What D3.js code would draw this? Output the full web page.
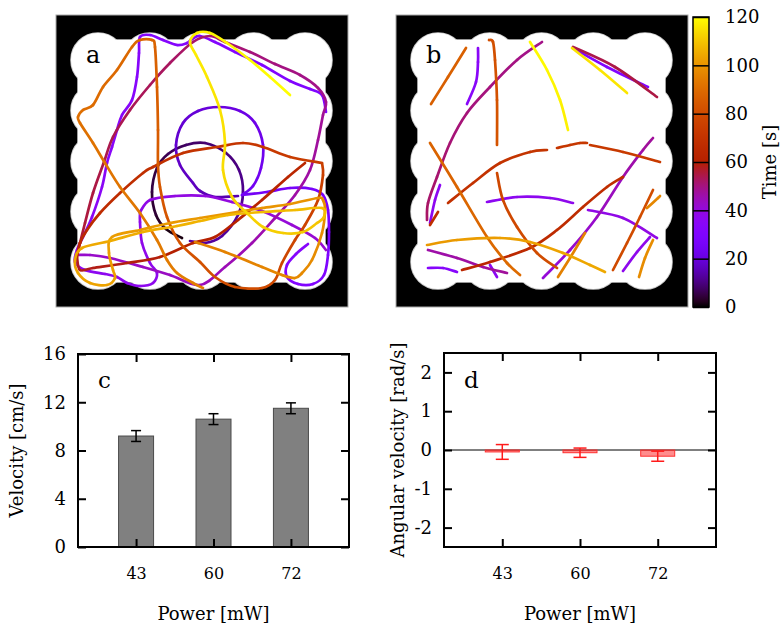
<!DOCTYPE html>
<html>
<head>
<meta charset="utf-8">
<script src="https://cdn.jsdelivr.net/npm/d3@7"></script>
<style>
  body { margin: 0; background: #fff; }
  text { font-family: "DejaVu Serif", serif; fill: #000; }
</style>
</head>
<body>
<svg id="fig" width="782" height="623"></svg>
<script>
// ---------- data ----------
var powers = ["43", "60", "72"];
var speed = [9.2, 10.6, 11.5];          // cm/s
var speedErr = [0.45, 0.45, 0.45];
var angVel = [-0.05, -0.07, -0.16];     // rad/s
var angErr = [0.19, 0.12, 0.13];
var speedTicks = [0, 4, 8, 12, 16];
var angTicks = [-2, -1, 0, 1, 2];
var timeTicks = [0, 20, 40, 60, 80, 100, 120];

// trajectories: arena coords in mm (0..146, y down), last value = time [s]
var trajA = [
  // dark loop
  [[63,111.5,0],[55,107,2.5],[50,100,3.5],[48,88.5,4.5],[50.5,76.5,5.5],[56,69.5,6.5],[65,65,7.5],[74.5,64,8.5],[85,69,9.5],[91.5,77.5,10.5],[93.5,88.5,11.5],[91,100,12],[83,110.5,12.5],[74.5,114,13],[67,113,13.5]],
  // purple loop
  [[91,90.5,14],[79.5,91,14.8],[72,88,15.5],[68.5,84,16.2],[62,75,17],[60,65,17.8],[63.5,54,18.6],[71,48,19.4],[81.5,46,20.2],[92,48,21],[99.5,54,21.8],[103.5,65,22.6],[102.5,76.5,23.4],[98.5,85.5,24],[93,90,24.5]],
  [[93,90,24.5],[105.5,88.5,25.2],[117,86.5,25.9],[128,87,26.6],[133.5,90,27.2],[136,97.5,27.8],[136.5,108.5,28.4],[136,120,29],[134,130,29.6],[128.5,134.5,30.2],[121,134.5,30.8],[115.5,131,31.4],[115.5,125,32],[120,119.5,32.6],[126,114.5,33.2]],
  [[135,48.5,30],[133,40,30.2],[127,37,30.4],[117,33,30.7],[103,25,31],[89.5,18.5,31.3],[79.5,13.5,31.6],[72,10.5,31.8],[68,12,32],[65.5,14,32.1],[60.5,15,32.3],[53.5,12.5,32.5],[47,10,32.7],[42,11,32.9],[41.5,19,33.1],[40.5,31,33.4],[38,42.5,33.7],[33,50,34],[30.5,57.5,34.2],[28,66,34.4],[25.5,74,34.6],[23,86,34.9],[18,101,35.2],[13.5,111,35.5],[10.5,117.5,35.7],[9.5,123.5,35.9],[14.5,127.5,36.1],[24.5,129.5,36.4],[30.5,131,36.6],[35.5,134,36.8],[42,135.5,37],[48.5,134,37.2],[50.5,129,37.4],[47,124,37.6],[43,114,37.8],[42,103.5,38],[42,98.5,38.2]],
  [[42,98.5,38.2],[47,92.5,38.6],[59.5,90.5,39],[74.5,90.5,39.5],[88,93.5,40],[103,98,40.5],[118,105,41],[129.5,111.5,41.5],[135,117.5,42]],
  // magenta loop
  [[10.5,120,42],[17,120,42.4],[27,121.5,42.8],[43.5,126,43.2],[57,130,43.6],[72,135,44],[84.5,126,44.6],[98,114,45.2],[109.5,101.5,45.8],[119.5,90,46.4],[127,77.5,47],[131,62.5,47.5],[133.5,50,48],[135,43.5,48.5],[131,36.5,49],[122,30,49.5],[109.5,24.5,50],[97,18.5,50.5],[84.5,13.5,51],[77,10.5,51.5],[68.5,13.5,52],[57,24,52.5],[47,35,53],[37,47.5,53.5],[28.5,61,54],[24,73.5,54.5],[18.5,89,55],[14.5,104,55.5],[12,114,56],[10.5,120,56.5]],
  // red
  [[10.5,121,57],[12,127.5,57.5],[18.5,126.5,58],[35.5,124,58.8],[52,121,59.6],[68.5,114,60.4],[79.5,111,61.2],[91,102.5,62],[103,92.5,62.8],[116,81,63.6],[124.5,74,64.4]],
  [[10.5,121,64.4],[12,114,65],[15.5,107.5,65.6],[22,99,66.4],[32,89,67.2],[43.5,79,68],[48.5,76,68.5],[63.5,69,69.5],[80.5,66,70.5],[93.5,64,71.5],[103.5,66,72.5],[117,71,73.5],[133,74,74.5]],
  // orange
  [[133,74,74.5],[133.5,80,75],[131,92.5,76],[124.5,105,77],[119.5,112.5,77.5],[113,124,78.2],[109.5,132.5,79],[103,136.5,79.7],[89.5,136,80.5],[79.5,131,81.2],[72,123.5,82],[62,114,82.7],[55.5,101,83.3],[52,86,84],[51,75,84.6],[51,57.5,85.5],[50.5,36,86.5],[49.5,16,87.5],[48,12.5,88],[42,12.5,88.3],[38,16,88.6],[30.5,27.5,89.1],[23.5,36,89.6],[18.5,45,90.1],[13.5,47.5,90.4],[11,51,90.7],[12,54,91],[18.5,64,91.5],[24.5,74,92],[32,86,92.5],[42,99,93],[50.5,112.5,93.5],[55.5,122.5,94],[60.5,129,94.3],[68.5,134,94.6],[73.5,136.5,95]],
  // orange -> yellow
  [[69.5,113.5,95.2],[84.5,118.5,95.8],[103,126,96.4],[113,130,96.9],[119.5,131.5,97.3],[123,129,97.7],[128,122.5,98.1],[133,109,98.6],[134.5,97.5,99],[133.5,92.5,99.3],[131,91.5,99.6],[117,94.5,100],[103,96.5,100.3],[90.5,98.5,100.6],[72,101.5,101],[57,104,101.3],[42,107.5,101.6],[28,111,102],[26.5,119,102.3],[28.5,127.5,102.6],[29.5,131.5,102.9],[25.5,135,103.2],[17,134,103.5],[11,129,103.8],[9.5,122.5,104.1],[13,116.5,104.4],[27,113,105],[43.5,108.5,105.6],[60.5,105.5,106.2],[72,103,106.7],[86,100,107.2],[103,98.5,107.7],[119.5,97.5,108.2],[133,96.5,108.7],[134,101,109.3],[130.5,104,110],[123.5,108.5,110.7],[113.5,109,111.4],[103.5,106,112],[95.5,99,112.7],[88,91,113.3],[83.5,77.5,114],[84.5,64,114.7],[82,47.5,115.4],[75.5,31,116.1],[70,20,116.8],[67,13.5,117.3],[70.5,9,117.8],[77,9,118.2],[85.5,14,118.7],[97,22.5,119.2],[107,31,119.6],[117,40,120]]
];

var trajB = [
  [[17.5,44.5,86],[26,31,86.5],[35,16.5,87]],
  [[35.5,44.5,34],[40,33.5,34.3],[41,23.5,34.6],[41,16.5,35]],
  [[46.5,12.5,81],[48.5,13.5,81.2],[49.5,22.5,81.6],[50.5,42.5,82.3],[50.5,65,83]],
  [[73,13.5,49],[60.5,22.5,49.5],[47,36,50],[35.5,49,50.5],[27,64,51],[20.5,81,51.5],[16,94,52],[15.5,102.5,52.4]],
  [[22,85,36],[19.5,92.5,36.3],[17,104,36.6]],
  [[21,98.5,67],[17,105,67.3]],
  [[67,13.5,119.5],[75.5,27.5,118.8],[82,42.5,118.1],[86,57.5,117.4]],
  [[88.5,16,54],[109.5,26,54.6],[130.5,41,55.2]],
  [[88.5,16.5,31],[105.5,26,31.5],[126,36,32]],
  [[88,16.5,115],[102,27.5,115.6],[115.5,39,116.2]],
  [[26,94,69],[38.5,84,69.6],[52,74,70.2],[67,68.5,70.8],[75.5,67.5,71.2]],
  [[80.5,66.5,71.5],[87,65,71.8],[92,64,72.1],[95.5,64,72.3]],
  [[97,65,72.5],[113.5,68.5,73.2],[132,73.5,74]],
  [[17,64,87],[30.5,86,88],[45.5,111,89],[55.5,124,89.6],[62,130,90]],
  [[50.5,79,78],[53.5,92.5,78.6],[60.5,106,79.2],[70.5,119,79.8],[80.5,126.5,80.3]],
  [[45.5,93.5,36],[60.5,91,36.6],[77,91.5,37.2],[88.5,94,37.6]],
  [[96,97.5,38],[113.5,101.5,38.6],[130.5,111.5,39.3]],
  [[73.5,131.5,40],[87,117.5,41.5],[100.5,101,43],[113.5,81,45],[123.5,67.5,47],[128.5,61.5,48]],
  [[33,127.5,64],[47,123.5,64.7],[67,116.5,65.5],[80.5,107.5,66.2],[93.5,96,67],[105.5,86,67.7],[113.5,81,68.2]],
  [[15.5,115,101],[30.5,112.5,101.6],[52,111.5,102.3],[67,113.5,102.9],[83.5,119,103.6],[97,125,104.2],[104.5,128.5,104.6]],
  [[16,117.5,46],[30.5,121.5,46.6],[43.5,126,47.2],[55.5,129,47.8]],
  [[16,126.5,33],[23.5,126.5,33.3],[30.5,128.5,33.6]],
  [[47,125,36],[50.5,131,36.3]],
  [[81,131,95],[87,121.5,95.5],[94.5,109,96]],
  [[108.5,127.5,79],[115.5,114,79.6],[122,101,80.2],[128.5,87.5,80.8]],
  [[125.5,96.5,97],[131,91.5,97.3],[132,90.5,97.5]],
  [[113.5,128,37],[120.5,118.5,37.4],[127,111,37.8]],
  [[121.5,131,98],[124.5,121.5,98.4],[128.5,112.5,98.8]]
];

// ---------- setup ----------
var svg = d3.select("#fig");

// gnuplot default palette (rgbformulae 7,5,15)
function gnuplot(x) {
  x = Math.max(0, Math.min(1, x));
  return d3.rgb(255 * Math.sqrt(x), 255 * x * x * x, 255 * Math.max(0, Math.sin(2 * Math.PI * x))).formatHex();
}
var color = d3.scaleSequential(gnuplot).domain([0, 120]);

// arena: scalloped square, 5 lobes per side
var arena = {size: 146, u0: 7.5, u1: 138, v0: 9, v1: 137, r: 13.5, n: 5, inset: 3.5};

function trajPanel(left, strokes, label) {
  var x = d3.scaleLinear().domain([0, arena.size]).range([left, left + 292]);
  var y = d3.scaleLinear().domain([0, arena.size]).range([15, 307]);
  var k = x(1) - x(0);
  var g = svg.append("g");

  g.append("rect")
    .attr("x", x(0)).attr("y", y(0))
    .attr("width", x(arena.size) - x(0)).attr("height", y(arena.size) - y(0))
    .attr("fill", "#000").attr("stroke", "#aaa").attr("stroke-width", 1);

  // lobes on the rim
  var lobes = [];
  var du = (arena.u1 - arena.u0 - 2 * arena.r) / (arena.n - 1),
      dv = (arena.v1 - arena.v0 - 2 * arena.r) / (arena.n - 1);
  for (var i = 0; i < arena.n; i++) {
    for (var j = 0; j < arena.n; j++) {
      if (i == 0 || j == 0 || i == arena.n - 1 || j == arena.n - 1)
        lobes.push([arena.u0 + arena.r + i * du, arena.v0 + arena.r + j * dv]);
    }
  }
  // two passes: grey rim first, then white fill on top
  [["#c8c8c8", 1.6], ["none", 0]].forEach(function(pass) {
    var a = g.append("g").attr("fill", "#fff").attr("stroke", pass[0]).attr("stroke-width", pass[1]);
    a.append("rect")
      .attr("x", x(arena.u0 + arena.inset)).attr("y", y(arena.v0 + arena.inset))
      .attr("width", (arena.u1 - arena.u0 - 2 * arena.inset) * k)
      .attr("height", (arena.v1 - arena.v0 - 2 * arena.inset) * k)
      .attr("rx", 3 * k);
    a.selectAll("circle").data(lobes).join("circle")
      .attr("cx", function(d) { return x(d[0]); })
      .attr("cy", function(d) { return y(d[1]); })
      .attr("r", arena.r * k);
  });

  // split each stroke into Catmull-Rom pieces, colour by time
  var segs = [];
  strokes.forEach(function(s) {
    var P = s.map(function(p) { return [x(p[0]), y(p[1])]; });
    for (var i = 0; i < P.length - 1; i++) {
      var p0 = P[i - 1] || P[i], p1 = P[i], p2 = P[i + 1], p3 = P[i + 2] || P[i + 1];
      var c1 = [p1[0] + (p2[0] - p0[0]) / 6, p1[1] + (p2[1] - p0[1]) / 6];
      var c2 = [p2[0] - (p3[0] - p1[0]) / 6, p2[1] - (p3[1] - p1[1]) / 6];
      var path = d3.path();
      path.moveTo(p1[0], p1[1]);
      path.bezierCurveTo(c1[0], c1[1], c2[0], c2[1], p2[0], p2[1]);
      segs.push({d: path.toString(), t: (s[i][2] + s[i + 1][2]) / 2});
    }
  });
  segs.sort(function(a, b) { return a.t - b.t; });

  g.append("g").selectAll("path").data(segs).join("path")
    .attr("d", function(d) { return d.d; })
    .attr("fill", "none")
    .attr("stroke", function(d) { return color(d.t); })
    .attr("stroke-width", 2.7)
    .attr("stroke-linecap", "round");

  g.append("text")
    .attr("x", left + 30).attr("y", 63)
    .style("font-size", "24px")
    .text(label);
}

trajPanel(56, trajA, "a");
trajPanel(396, trajB, "b");

// ---------- colour bar ----------
var cb = d3.scaleLinear().domain([0, 120]).range([307, 17]);
var grad = svg.append("defs").append("linearGradient")
  .attr("id", "cbar").attr("x1", 0).attr("y1", 1).attr("x2", 0).attr("y2", 0);
grad.selectAll("stop").data(d3.range(0, 1.0001, 0.02)).join("stop")
  .attr("offset", function(d) { return d; })
  .attr("stop-color", function(d) { return gnuplot(d); });

svg.append("rect")
  .attr("x", 693).attr("y", cb(120)).attr("width", 16).attr("height", cb(0) - cb(120))
  .attr("fill", "url(#cbar)").attr("stroke", "#000").attr("stroke-width", 1.5);

var cbR = svg.append("g").attr("transform", "translate(709,0)")
  .call(d3.axisRight(cb).tickValues(timeTicks).tickSize(-8).tickPadding(16).tickFormat(function(d) { return String(d); }));
var cbL = svg.append("g").attr("transform", "translate(693,0)")
  .call(d3.axisLeft(cb).tickValues(timeTicks).tickSize(-8).tickFormat(""));
[cbR, cbL].forEach(function(a) {
  a.select(".domain").remove();
  a.selectAll(".tick line").attr("stroke", "#000").attr("stroke-width", 1.5);
  a.selectAll("text").attr("fill", "#000").style("font-size", "18px").style("font-family", '"DejaVu Serif", serif');
});

svg.append("text")
  .attr("transform", "translate(770,162) rotate(-90)")
  .attr("text-anchor", "middle").attr("dy", "0.35em")
  .style("font-size", "18px")
  .text("Time [s]");

// ---------- bar panels ----------
function barPanel(o) {
  var x = d3.scalePoint().domain(powers).range([o.left, o.right]).padding(0.75);
  var y = d3.scaleLinear().domain(o.domain).range([o.bottom, o.top]);
  var g = svg.append("g");

  if (o.zero) {
    g.append("line")
      .attr("x1", o.left).attr("x2", o.right).attr("y1", y(0)).attr("y2", y(0))
      .attr("stroke", "#000").attr("stroke-width", 1);
  }

  g.selectAll("rect.bar").data(o.values).join("rect")
    .attr("class", "bar")
    .attr("x", function(d, i) { return x(powers[i]) - o.barW / 2; })
    .attr("y", function(d) { return y(Math.max(d, 0)); })
    .attr("width", o.barW)
    .attr("height", function(d) { return Math.abs(y(d) - y(0)); })
    .attr("fill", o.fill).attr("stroke", o.stroke).attr("stroke-width", 1);

  var eb = g.selectAll("g.err").data(o.values).join("g").attr("class", "err")
    .attr("stroke", o.errColor).attr("stroke-width", 1.5);
  eb.append("line")
    .attr("x1", function(d, i) { return x(powers[i]); })
    .attr("x2", function(d, i) { return x(powers[i]); })
    .attr("y1", function(d, i) { return y(d - o.errs[i]); })
    .attr("y2", function(d, i) { return y(d + o.errs[i]); });
  [-1, 1].forEach(function(s) {
    eb.append("line")
      .attr("x1", function(d, i) { return x(powers[i]) - o.capW; })
      .attr("x2", function(d, i) { return x(powers[i]) + o.capW; })
      .attr("y1", function(d, i) { return y(d + s * o.errs[i]); })
      .attr("y2", function(d, i) { return y(d + s * o.errs[i]); });
  });

  var fmt = function(d) { return String(d); };
  var axes = [
    g.append("g").attr("transform", "translate(" + o.left + ",0)")
      .call(d3.axisLeft(y).tickValues(o.ticks).tickSize(-8).tickPadding(12).tickFormat(fmt)),
    g.append("g").attr("transform", "translate(" + o.right + ",0)")
      .call(d3.axisRight(y).tickValues(o.ticks).tickSize(-8).tickFormat("")),
    g.append("g").attr("transform", "translate(0," + o.bottom + ")")
      .call(d3.axisBottom(x).tickSize(-8).tickPadding(21)),
    g.append("g").attr("transform", "translate(0," + o.top + ")")
      .call(d3.axisTop(x).tickSize(-8).tickFormat(""))
  ];
  axes.forEach(function(a, i) {
    a.select(".domain").remove();
    a.selectAll(".tick line").attr("stroke", "#000").attr("stroke-width", 2);
    a.selectAll("text").attr("fill", "#000")
      .style("font-family", '"DejaVu Serif", serif')
      .style("font-size", i == 2 ? "16px" : "18px");
  });

  g.append("rect")
    .attr("x", o.left).attr("y", o.top)
    .attr("width", o.right - o.left).attr("height", o.bottom - o.top)
    .attr("fill", "none").attr("stroke", "#000").attr("stroke-width", 2);

  g.append("text")
    .attr("x", o.left + 20).attr("y", 388)
    .style("font-size", "23px")
    .text(o.label);

  g.append("text")
    .attr("transform", "translate(" + o.ylabX + "," + ((o.top + o.bottom) / 2) + ") rotate(-90)")
    .attr("text-anchor", "middle").attr("dy", "0.35em")
    .style("font-size", "18px")
    .text(o.ylabel);

  g.append("text")
    .attr("x", (o.left + o.right) / 2).attr("y", 620)
    .attr("text-anchor", "middle")
    .style("font-size", "18px")
    .text("Power [mW]");
}

barPanel({
  left: 78, right: 349, top: 354, bottom: 547,
  domain: [0, 16], ticks: speedTicks,
  values: speed, errs: speedErr,
  barW: 35, fill: "#808080", stroke: "#4a4a4a", errColor: "#000", capW: 5,
  label: "c", ylabel: "Velocity [cm/s]", ylabX: 17, zero: false
});

barPanel({
  left: 444, right: 716, top: 353, bottom: 547,
  domain: [-2.5, 2.5], ticks: angTicks,
  values: angVel, errs: angErr,
  barW: 34, fill: "rgba(255,0,0,0.45)", stroke: "#ff3030", errColor: "#ff1a1a", capW: 6.5,
  label: "d", ylabel: "Angular velocity [rad/s]", ylabX: 398, zero: true
});
</script>
</body>
</html>
